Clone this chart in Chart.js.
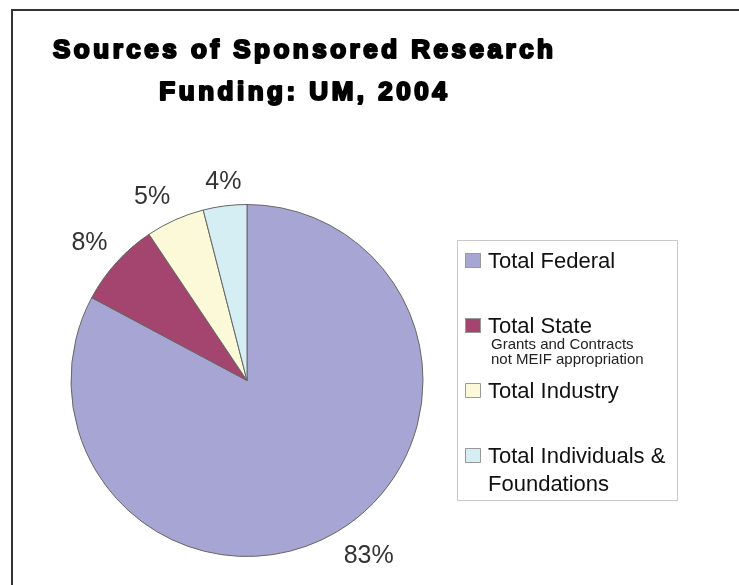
<!DOCTYPE html>
<html>
<head>
<meta charset="utf-8">
<script src="https://cdn.jsdelivr.net/npm/chart.js@4/dist/chart.umd.min.js"></script>
<style>
  html, body { margin: 0; padding: 0; background: #fff; }
  #wrap { width: 739px; height: 585px; position: relative; }
</style>
</head>
<body>
<div id="wrap"><canvas id="c" width="739" height="585"></canvas></div>
<script>
// ---- data ----
const titleLines = ["Sources of Sponsored Research", "Funding: UM, 2004"];
const categories = ["Total Federal", "Total State", "Total Industry", "Total Individuals & Foundations"];
const shares = [82.8, 7.8, 5.4, 4.0];
const legendLines = [["Total Federal"], ["Total State"], ["Total Industry"], ["Total Individuals &", "Foundations"]];
const legendNotes = [[], ["Grants and Contracts", "not MEIF appropriation"], [], []];
const sliceColors = ["#A7A5D3", "#A3456F", "#FBF9D7", "#D5EEF3"];

const total = shares.reduce((a, b) => a + b, 0);

const decorPlugin = {
  id: 'decor',
  beforeDraw(chart) {
    const ctx = chart.ctx;
    ctx.save();
    ctx.fillStyle = '#fff';
    ctx.fillRect(0, 0, chart.width, chart.height);
    // frame (top + left)
    ctx.strokeStyle = '#333';
    ctx.lineWidth = 2;
    ctx.beginPath();
    ctx.moveTo(12, chart.height);
    ctx.lineTo(12, 10);
    ctx.lineTo(chart.width, 10);
    ctx.stroke();
    ctx.restore();
  },
  afterDraw(chart) {
    const ctx = chart.ctx;
    ctx.save();
    // title
    ctx.fillStyle = '#000';
    ctx.strokeStyle = '#000';
    ctx.lineWidth = 2.2;
    ctx.lineJoin = 'round';
    ctx.font = 'bold 26px "Liberation Sans", Arial, sans-serif';
    ctx.textBaseline = 'alphabetic';
    ctx.textAlign = 'left';
    const baseW = ctx.measureText(titleLines[0]).width;
    const spacing = Math.max(0, (500 - baseW) / (titleLines[0].length - 1));
    ctx.letterSpacing = spacing.toFixed(2) + 'px';
    const tBase = [58, 100];
    titleLines.forEach((line, i) => {
      const w = ctx.measureText(line).width - spacing;
      const x = 303 - w / 2;
      ctx.fillText(line, x, tBase[i]);
      ctx.strokeText(line, x, tBase[i]);
    });
    ctx.letterSpacing = '0px';

    // percentage labels
    const meta = chart.getDatasetMeta(0);
    ctx.fillStyle = '#333';
    ctx.font = '25px "Liberation Sans", Arial, sans-serif';
    meta.data.forEach((arc, i) => {
      const p = arc.getProps(['x', 'y', 'startAngle', 'endAngle', 'outerRadius'], true);
      const mid = (p.startAngle + p.endAngle) / 2;
      const c = Math.cos(mid), s = Math.sin(mid);
      const d = p.outerRadius + 12;
      const x = p.x + c * d, y = p.y + s * d;
      ctx.textAlign = Math.abs(c) < 0.25 ? 'center' : (c > 0 ? 'left' : 'right');
      ctx.textBaseline = s > 0 ? 'top' : 'bottom';
      const pct = Math.round(shares[i] / total * 100) + '%';
      ctx.fillText(pct, x, y + (s > 0 ? 2 : 1));
    });

    // legend
    const lx = 457, ly = 240, lw = 220, lh = 260;
    ctx.strokeStyle = '#C8C8C8';
    ctx.lineWidth = 1;
    ctx.strokeRect(lx + 0.5, ly + 0.5, lw, lh);
    ctx.textAlign = 'left';
    ctx.textBaseline = 'alphabetic';
    categories.forEach((cat, i) => {
      const base = 268 + i * 65;
      ctx.fillStyle = sliceColors[i];
      ctx.fillRect(465, base - 15, 16, 15);
      ctx.strokeStyle = '#999';
      ctx.strokeRect(465.5, base - 14.5, 15, 14);
      ctx.fillStyle = '#111';
      ctx.font = '22px "Liberation Sans", Arial, sans-serif';
      let yy = base;
      legendLines[i].forEach((ln) => {
        ctx.fillText(ln, 488, yy);
        yy += 28;
      });
      if (legendNotes[i].length) {
        ctx.font = '15px "Liberation Sans", Arial, sans-serif';
        ctx.fillStyle = '#222';
        let ny = base + 16;
        legendNotes[i].forEach((ln) => {
          ctx.fillText(ln, 491, ny);
          ny += 15;
        });
      }
    });
    ctx.restore();
  }
};

new Chart(document.getElementById('c'), {
  type: 'pie',
  data: {
    labels: categories,
    datasets: [{
      data: shares,
      backgroundColor: sliceColors,
      borderColor: '#666',
      borderWidth: 1
    }]
  },
  options: {
    responsive: false,
    animation: false,
    layout: { padding: { left: 70, top: 204, right: 315, bottom: 28 } },
    plugins: {
      legend: { display: false },
      title: { display: false },
      tooltip: { enabled: false }
    }
  },
  plugins: [decorPlugin]
});
</script>
</body>
</html>
